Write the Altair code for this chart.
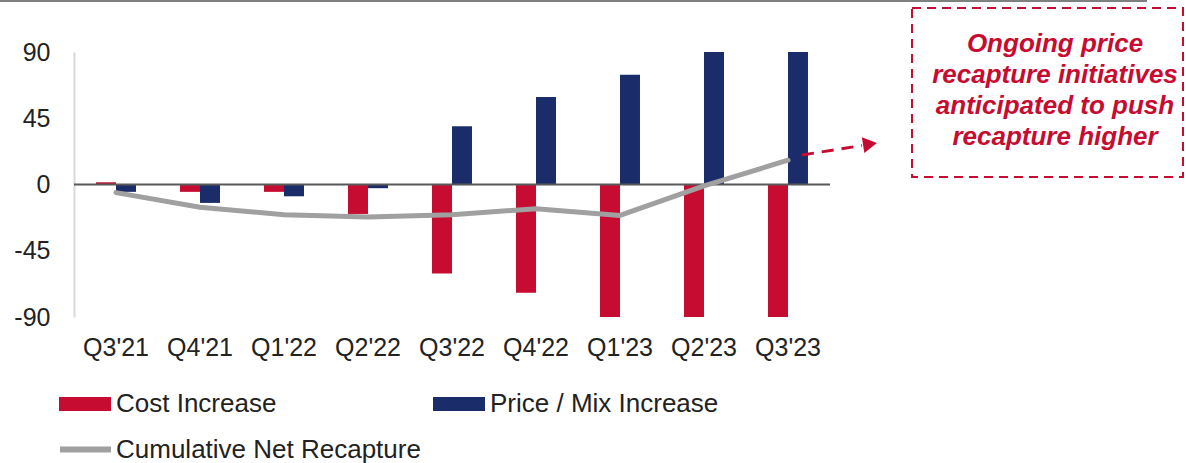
import altair as alt
import pandas as pd

quarters = ["Q3'21", "Q4'21", "Q1'22", "Q2'22", "Q3'22", "Q4'22", "Q1'23", "Q2'23", "Q3'23"]
cost_increase = [1.5, -5, -5, -20, -60.5, -73.5, -90, -90, -90]
price_mix_increase = [-5, -12.5, -8, -2.5, 39.5, 59.5, 74.5, 90, 90]
cumulative_net = [-5.5, -15.5, -20.5, -22, -20.5, -16.5, -21, -1, 16.5]
y_ticks = [-90, -45, 0, 45, 90]
annotation_lines = ["Ongoing price", "recapture initiatives", "anticipated to push", "recapture higher"]

series_names = ["Cost Increase", "Price / Mix Increase"]
line_name = "Cumulative Net Recapture"
RED = "#C60C30"
NAVY = "#1B2C6B"
GRAY = "#A0A0A0"
FONT = "Liberation Sans"

bars_df = pd.DataFrame(
    [{"quarter": q, "series": series_names[0], "value": v} for q, v in zip(quarters, cost_increase)]
    + [{"quarter": q, "series": series_names[1], "value": v} for q, v in zip(quarters, price_mix_increase)]
)
line_df = pd.DataFrame({"quarter": quarters, "value": cumulative_net, "name": line_name})

x_enc = alt.X(
    "quarter:N",
    sort=quarters,
    scale=alt.Scale(paddingInner=0.524, paddingOuter=0.262),
    axis=alt.Axis(title=None, labelAngle=0, domain=False, ticks=False, labelPadding=18,
                  labelFontSize=25, labelFont=FONT, labelColor="#222222"),
)
y_scale = alt.Scale(domain=[-90, 90], nice=False)

bars = alt.Chart(bars_df).mark_bar(clip=True).encode(
    x=x_enc,
    xOffset=alt.XOffset("series:N", sort=series_names, scale=alt.Scale(paddingInner=0, paddingOuter=0)),
    y=alt.Y("value:Q", scale=y_scale,
            axis=alt.Axis(title=None, values=y_ticks, grid=False, ticks=False, domainColor="#D9D9D9",
                          domainWidth=2, labelPadding=24, labelFontSize=25, labelFont=FONT,
                          labelColor="#222222", labelExpr="'' + datum.value")),
    color=alt.Color("series:N", scale=alt.Scale(domain=series_names, range=[RED, NAVY]),
                    legend=alt.Legend(title=None, orient="none", legendX=-15, legendY=326,
                                      direction="horizontal", columns=2, columnPadding=156,
                                      symbolType="M-1,-0.27H1V0.27H-1Z", symbolSize=2704,
                                      symbolStrokeWidth=0, labelOffset=5, labelFontSize=26,
                                      labelFont=FONT, labelColor="#222222", padding=0,
                                      labelLimit=500)),
)

zero = alt.Chart(pd.DataFrame({"z": [0]})).mark_rule(color="#595959", strokeWidth=2).encode(
    y=alt.Y("z:Q", scale=y_scale)
)

line = alt.Chart(line_df).mark_line(strokeWidth=5, strokeCap="round", strokeJoin="round").encode(
    x=alt.X("quarter:N", sort=quarters),
    y=alt.Y("value:Q", scale=y_scale),
    stroke=alt.Stroke("name:N", scale=alt.Scale(domain=[line_name], range=[GRAY]),
                      legend=alt.Legend(title=None, orient="none", legendX=-17, legendY=369,
                                        symbolType="stroke", symbolSize=2601, symbolStrokeWidth=6,
                                        labelOffset=2, labelFontSize=26, labelFont=FONT,
                                        labelColor="#222222", padding=0, labelLimit=500)),
)

dummy = pd.DataFrame({"a": [0]})

top_rule = alt.Chart(dummy).mark_rule(color="#7F7F7F", strokeWidth=2).encode(
    x=alt.value(-74), x2=alt.value(1073), y=alt.value(-51)
)

box = alt.Chart(dummy).mark_rect(fill=None, fillOpacity=0, stroke=RED, strokeWidth=2,
                                 strokeDash=[9, 6]).encode(
    x=alt.value(838), x2=alt.value(1109), y=alt.value(-44), y2=alt.value(125)
)

ann_text = alt.Chart(dummy).mark_text(
    text=annotation_lines, font=FONT, fontSize=26, fontStyle="italic", fontWeight="bold",
    color=RED, align="center", baseline="middle", lineHeight=31,
).encode(x=alt.value(981), y=alt.value(-8))

arrow_line = alt.Chart(dummy).mark_rule(color=RED, strokeWidth=3, strokeDash=[12, 8]).encode(
    x=alt.value(728), x2=alt.value(788), y=alt.value(103), y2=alt.value(93.5)
)
arrow_head = alt.Chart(dummy).mark_point(shape="triangle-right", filled=True, color=RED, size=260,
                                         opacity=1, angle=351).encode(
    x=alt.value(796), y=alt.value(92)
)

chart = alt.layer(bars, zero, line, top_rule, box, ann_text, arrow_line, arrow_head).resolve_scale(
    color="independent"
).properties(
    width=756, height=265,
    autosize=alt.AutoSizeParams(type="none"),
    padding={"left": 74, "top": 52, "right": 356, "bottom": 146},
).configure(background="white", view=alt.ViewConfig(stroke=None))

chart.save("out.html", embed_options={"renderer": "svg", "actions": False})
